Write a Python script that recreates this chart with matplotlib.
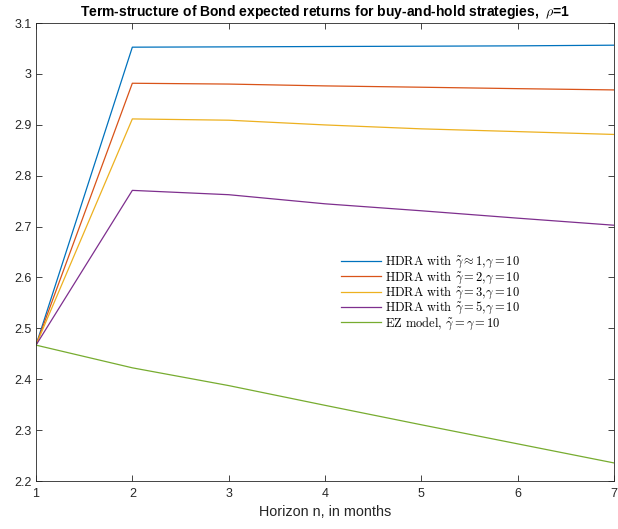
import numpy as np
import matplotlib
matplotlib.use("Agg")
import matplotlib.pyplot as plt

# horizons (months) and expected returns
horizon = [1, 2, 3, 4, 5, 6, 7]
hdra_1 = [2.467, 3.0525, 3.0531, 3.0538, 3.0544, 3.0551, 3.0564]
hdra_2 = [2.467, 2.9816, 2.9800, 2.9764, 2.9738, 2.9710, 2.9685]
hdra_3 = [2.467, 2.9115, 2.9090, 2.8997, 2.8920, 2.8866, 2.8810]
hdra_5 = [2.467, 2.7711, 2.7626, 2.7447, 2.7310, 2.7165, 2.7026]
ez_model = [2.467, 2.4224, 2.3875, 2.3487, 2.3105, 2.2730, 2.2355]

labels = [r"HDRA with $\tilde{\gamma} \approx 1$,$\gamma = 10$",
          r"HDRA with $\tilde{\gamma} = 2$,$\gamma = 10$",
          r"HDRA with $\tilde{\gamma} = 3$,$\gamma = 10$",
          r"HDRA with $\tilde{\gamma} = 5$,$\gamma = 10$",
          r"EZ model, $\tilde{\gamma} = \gamma = 10$"]
colors = ['#0072BD', '#D95319', '#EDB120', '#7E2F8E', '#77AC30']

yticks = np.round(np.arange(2.2, 3.11, 0.1), 1)
yticklabels = ['2.2', '2.3', '2.4', '2.5', '2.6', '2.7', '2.8', '2.9', '3', '3.1']

plt.rcParams['font.family'] = ['Liberation Sans', 'DejaVu Sans']
plt.rcParams['mathtext.fontset'] = 'cm'

fig = plt.figure(figsize=(6.18, 5.29), dpi=100)
ax = fig.add_axes([36/618, 1 - 481/529, 578/618, 458/529])

for series, lab, c in zip([hdra_1, hdra_2, hdra_3, hdra_5, ez_model], labels, colors):
    ax.plot(horizon, series, color=c, linewidth=0.9, label=lab)

ax.set_xlim(1, 7)
ax.set_ylim(2.2, 3.1)
ax.set_xticks(horizon)
ax.set_yticks(yticks)
ax.set_yticklabels(yticklabels)
ax.tick_params(direction='in', top=True, right=True, length=4, width=0.6,
               labelsize=9, colors='#262626')
ax.tick_params(axis='x', pad=5)
ax.tick_params(axis='y', pad=3)
for sp in ax.spines.values():
    sp.set_linewidth(0.6)
    sp.set_color('#262626')

ax.set_xlabel('Horizon n, in months', fontsize=10.4, color='#262626', labelpad=4)
ax.set_title(r'Term-structure of Bond expected returns for buy-and-hold strategies,  $\rho$=1',
             fontsize=10, fontweight='bold', pad=5)

ax.legend(loc='upper left', bbox_to_anchor=(341/618, 1 - 254/529),
          bbox_transform=fig.transFigure, frameon=False, borderpad=0,
          borderaxespad=0, handlelength=3.2, handletextpad=0.3,
          labelspacing=-0.06, prop={'family': 'cmr10', 'size': 9})

fig.savefig('out.png', dpi=100)
